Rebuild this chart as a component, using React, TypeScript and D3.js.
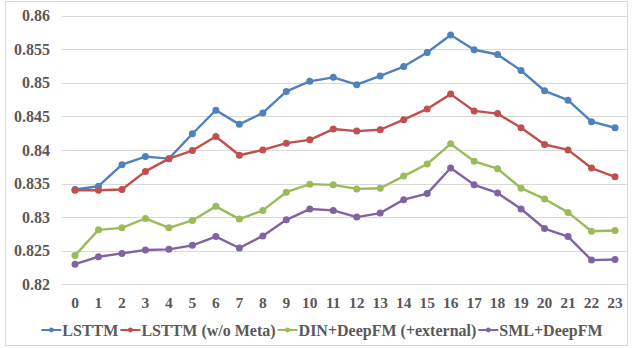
import React, { useEffect, useRef } from "react";
import * as d3 from "d3";

const hours = Array.from({ length: 24 }, (_, i) => String(i));
const yTicks = [0.82, 0.825, 0.83, 0.835, 0.84, 0.845, 0.85, 0.855, 0.86];
const yTickLabels = ["0.82", "0.825", "0.83", "0.835", "0.84", "0.845", "0.85", "0.855", "0.86"];

const seriesNames = ["LSTTM", "LSTTM (w/o Meta)", "DIN+DeepFM (+external)", "SML+DeepFM"];
const seriesColors = ["#4F81BD", "#C0504D", "#9BBB59", "#8064A2"];

const lsttm = [0.8341, 0.8346, 0.8378, 0.8390, 0.8387, 0.8424, 0.8459, 0.8438, 0.8455, 0.8487, 0.8502, 0.8508, 0.8497, 0.8510, 0.8524, 0.8545, 0.8571, 0.8549, 0.8542, 0.8518, 0.8488, 0.8474, 0.8442, 0.8433];
const lsttmNoMeta = [0.8340, 0.8340, 0.8341, 0.8368, 0.8387, 0.8399, 0.8420, 0.8392, 0.8400, 0.8410, 0.8415, 0.8431, 0.8428, 0.8430, 0.8445, 0.8461, 0.8483, 0.8458, 0.8454, 0.8433, 0.8408, 0.8400, 0.8373, 0.8360];
const dinDeepFM = [0.8243, 0.8281, 0.8284, 0.8298, 0.8284, 0.8295, 0.8316, 0.8297, 0.8310, 0.8337, 0.8349, 0.8348, 0.8342, 0.8343, 0.8361, 0.8379, 0.8409, 0.8383, 0.8372, 0.8343, 0.8327, 0.8307, 0.8279, 0.8280];
const smlDeepFM = [0.8230, 0.8241, 0.8246, 0.8251, 0.8252, 0.8258, 0.8271, 0.8254, 0.8272, 0.8296, 0.8312, 0.8310, 0.8300, 0.8306, 0.8326, 0.8335, 0.8373, 0.8348, 0.8336, 0.8312, 0.8283, 0.8271, 0.8236, 0.8237];

const seriesValues = [lsttm, lsttmNoMeta, dinDeepFM, smlDeepFM];

const W = 632;
const H = 348;
const FONT = "'Liberation Serif', 'Times New Roman', serif";
const TEXT = "#595959";

export default function App() {
  const ref = useRef<SVGSVGElement>(null);

  useEffect(() => {
    const svg = d3.select(ref.current);
    svg.selectAll("*").remove();

    svg.append("rect")
      .attr("x", 5.5).attr("y", 1.5).attr("width", 622).attr("height", 344)
      .attr("fill", "white").attr("stroke", "#d9d9d9").attr("stroke-width", 1);

    const x = d3.scalePoint<string>().domain(hours).range([75, 615]);
    const y = d3.scaleLinear().domain([0.82, 0.86]).range([284.3, 15.5]);
    const gridX0 = 62;
    const gridX1 = 627;

    svg.append("g").selectAll("line").data(yTicks).join("line")
      .attr("x1", gridX0).attr("x2", gridX1)
      .attr("y1", (d) => Math.round(y(d)) + 0.5).attr("y2", (d) => Math.round(y(d)) + 0.5)
      .attr("stroke", "#d9d9d9").attr("stroke-width", 1);

    svg.append("g").selectAll("text").data(yTicks).join("text")
      .attr("x", 50).attr("y", (d) => y(d))
      .attr("dy", "0.35em")
      .attr("text-anchor", "end")
      .attr("font-family", FONT).attr("font-weight", "bold").attr("font-size", 16)
      .attr("fill", TEXT)
      .text((_, i) => yTickLabels[i]);

    svg.append("g").selectAll("text").data(hours).join("text")
      .attr("x", (d) => x(d)!).attr("y", 303)
      .attr("dy", "0.35em")
      .attr("text-anchor", "middle")
      .attr("font-family", FONT).attr("font-weight", "bold").attr("font-size", 15.5)
      .attr("fill", TEXT)
      .text((d) => d);

    seriesValues.forEach((vals, si) => {
      const g = svg.append("g");
      const line = d3.line<number>().x((_, i) => x(hours[i])!).y((d) => y(d));
      g.append("path").attr("d", line(vals)).attr("fill", "none")
        .attr("stroke", seriesColors[si]).attr("stroke-width", 2.4)
        .attr("stroke-linejoin", "round");
      g.selectAll("circle").data(vals).join("circle")
        .attr("cx", (_, i) => x(hours[i])!).attr("cy", (d) => y(d))
        .attr("r", 3.5).attr("fill", seriesColors[si]);
    });

    const lg = svg.append("g");
    const ly = 330;
    const items: { g: any; w: number }[] = [];
    seriesNames.forEach((name, si) => {
      const g = lg.append("g");
      g.append("line").attr("x1", 0).attr("x2", 20).attr("y1", ly).attr("y2", ly)
        .attr("stroke", seriesColors[si]).attr("stroke-width", 2);
      g.append("circle").attr("cx", 10).attr("cy", ly).attr("r", 2.4).attr("fill", seriesColors[si]);
      const t = g.append("text").attr("x", 21).attr("y", ly).attr("dy", "0.35em")
        .attr("font-family", FONT).attr("font-weight", "bold").attr("font-size", 16)
        .attr("fill", TEXT).text(name);
      const tw = (t.node() as SVGTextElement).getComputedTextLength();
      items.push({ g, w: 21 + tw + 2 });
    });
    const total = items.reduce((a, b) => a + b.w, 0);
    let cx = 323 - total / 2;
    items.forEach((it) => {
      it.g.attr("transform", `translate(${cx},0)`);
      cx += it.w;
    });
  }, []);

  return (
    <div style={{ position: "absolute", left: 0, top: 0 }}>
      <svg ref={ref} width={W} height={H} style={{ display: "block" }} />
    </div>
  );
}
